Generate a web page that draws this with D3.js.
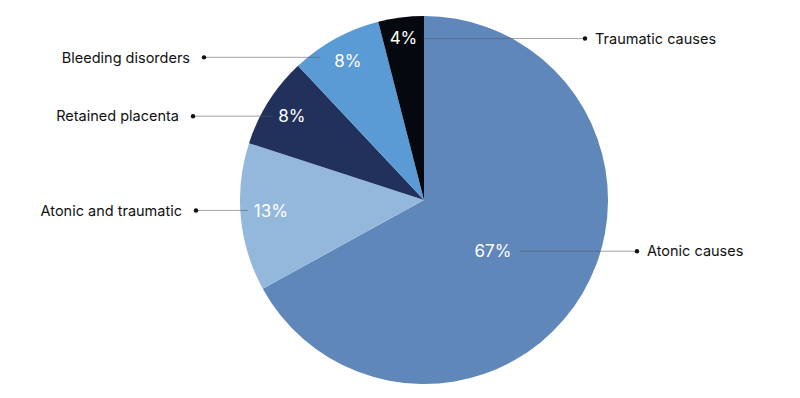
<!DOCTYPE html>
<html>
<head>
<meta charset="utf-8">
<script src="https://cdn.jsdelivr.net/npm/d3@7"></script>
<style>
  body { margin: 0; background: #fff; }
  svg { display: block; font-family: Inter, "Noto Sans", sans-serif; }
</style>
</head>
<body>
<div id="chart"></div>
<script>
// data, clockwise from 12 o'clock
const categories = ["Atonic causes", "Atonic and traumatic", "Retained placenta", "Bleeding disorders", "Traumatic causes"];
const values = [67, 13, 8, 8, 4];
const colors = ["#5f87ba", "#94b8dc", "#21315c", "#5b9bd5", "#05080f"];

const width = 800, height = 398;
const cx = 424, cy = 200, radius = 184;

// label layout (per slice)
const labelRadius = [0.467, 0.834, 0.85, 0.86, 0.89];   // fraction of radius for the % text
const labelShift = [6, 1.5, 0, 0, 0];                    // degrees nudged off the slice middle
const labelDotX = [637, 196, 193, 204, 585];             // x of the leader dot
const leaderStart = [27, -23, -19, -28, 20];             // leader start, offset from % text
const leaderDy = [0, 0, 0, -4, 1];                       // leader y, offset from % text

const svg = d3.select("#chart").append("svg")
  .attr("width", width)
  .attr("height", height);

const g = svg.append("g").attr("transform", `translate(${cx},${cy})`);

const pie = d3.pie().sort(null).value(d => d);
const arcs = pie(values);
const arc = d3.arc().innerRadius(0).outerRadius(radius);

g.selectAll("path.slice")
  .data(arcs)
  .join("path")
  .attr("class", "slice")
  .attr("d", arc)
  .attr("fill", (d, i) => colors[i]);

// percent label positions
const pos = arcs.map((d, i) => {
  const r = radius * labelRadius[i];
  const a = (d.startAngle + d.endAngle) / 2 + labelShift[i] * Math.PI / 180;
  return [Math.sin(a) * r, -Math.cos(a) * r];
});
const isRight = i => labelDotX[i] > cx;

// leader lines
g.selectAll("line.leader")
  .data(arcs)
  .join("line")
  .attr("class", "leader")
  .attr("x1", (d, i) => pos[i][0] + leaderStart[i])
  .attr("x2", (d, i) => labelDotX[i] - cx)
  .attr("y1", (d, i) => pos[i][1] + leaderDy[i])
  .attr("y2", (d, i) => pos[i][1] + leaderDy[i])
  .attr("stroke", "#5a5a5a")
  .attr("stroke-opacity", 0.55)
  .attr("stroke-width", 1);

g.selectAll("circle.dot")
  .data(arcs)
  .join("circle")
  .attr("class", "dot")
  .attr("cx", (d, i) => labelDotX[i] - cx)
  .attr("cy", (d, i) => pos[i][1] + leaderDy[i])
  .attr("r", 2.2)
  .attr("fill", "#111");

g.selectAll("text.pct")
  .data(arcs)
  .join("text")
  .attr("class", "pct")
  .attr("x", (d, i) => pos[i][0])
  .attr("y", (d, i) => pos[i][1])
  .attr("dy", "0.36em")
  .attr("text-anchor", "middle")
  .attr("fill", "#fff")
  .style("font-size", "17px")
  .text(d => d.data + "%");

g.selectAll("text.name")
  .data(arcs)
  .join("text")
  .attr("class", "name")
  .attr("x", (d, i) => isRight(i) ? labelDotX[i] - cx + 10 : labelDotX[i] - cx - 14)
  .attr("y", (d, i) => pos[i][1] + leaderDy[i])
  .attr("dy", "0.36em")
  .attr("text-anchor", (d, i) => isRight(i) ? "start" : "end")
  .attr("fill", "#111")
  .style("font-size", "14.5px")
  .text((d, i) => categories[i]);
</script>
</body>
</html>
